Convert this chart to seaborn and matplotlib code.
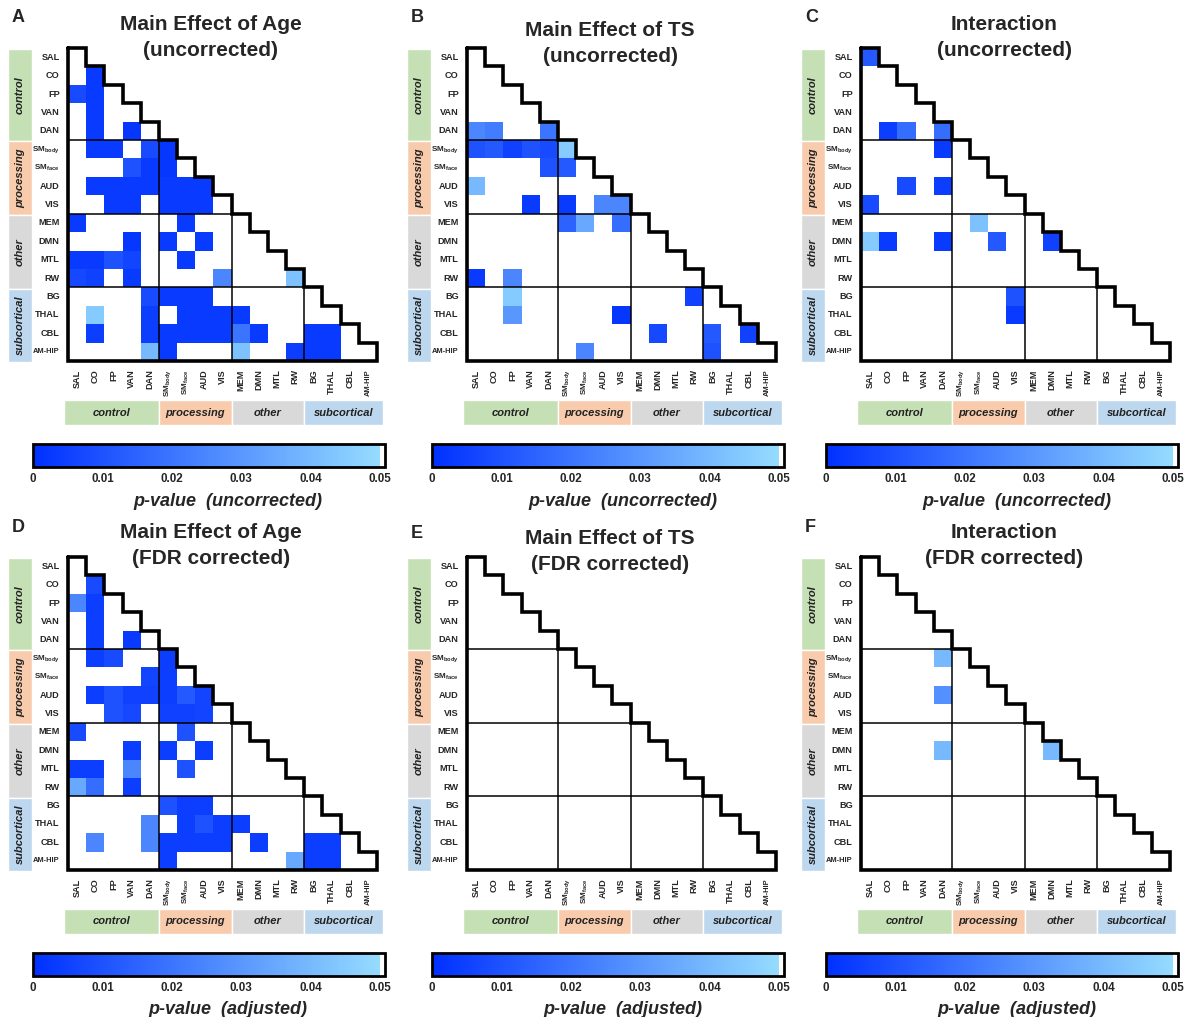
import numpy as np
import pandas as pd
import seaborn as sns
import matplotlib.pyplot as plt
from matplotlib.colors import LinearSegmentedColormap

sns.set_style("white")
plt.rcParams['font.family'] = ['Liberation Sans', 'DejaVu Sans']
plt.rcParams['mathtext.default'] = 'regular'

# networks and groups
networks = ["SAL", "CO", "FP", "VAN", "DAN", "SMbody", "SMface", "AUD", "VIS",
            "MEM", "DMN", "MTL", "RW", "BG", "THAL", "CBL", "AM-HIP"]
net_labels = ["SAL", "CO", "FP", "VAN", "DAN",
              r"SM$_{\mathregular{body}}$", r"SM$_{\mathregular{face}}$", "AUD", "VIS",
              "MEM", "DMN", "MTL", "RW", "BG", "THAL", "CBL", "AM-HIP"]
groups = ["control", "processing", "other", "subcortical"]
group_sizes = [5, 4, 4, 4]
group_colors = ["#c5e0b4", "#f8cbad", "#d9d9d9", "#bdd7ee"]
cbar_ticks = [0, 0.01, 0.02, 0.03, 0.04, 0.05]

# significant cells: (row network, column network, p)
age_unc = [
    ("CO", "CO", .003),
    ("FP", "SAL", .008), ("FP", "CO", .003),
    ("VAN", "CO", .003),
    ("DAN", "CO", .003), ("DAN", "VAN", .002),
    ("SMbody", "CO", .003), ("SMbody", "FP", .003), ("SMbody", "DAN", .008), ("SMbody", "SMbody", .002),
    ("SMface", "VAN", .01), ("SMface", "DAN", .003), ("SMface", "SMbody", .002),
    ("AUD", "CO", .003), ("AUD", "FP", .003), ("AUD", "VAN", .003), ("AUD", "DAN", .003),
    ("AUD", "SMbody", .003), ("AUD", "SMface", .003), ("AUD", "AUD", .003),
    ("VIS", "FP", .003), ("VIS", "VAN", .003), ("VIS", "SMbody", .003), ("VIS", "SMface", .003), ("VIS", "AUD", .003),
    ("MEM", "SAL", .003), ("MEM", "SMface", .003),
    ("DMN", "VAN", .002), ("DMN", "SMbody", .003), ("DMN", "AUD", .003),
    ("MTL", "SAL", .003), ("MTL", "CO", .003), ("MTL", "FP", .01), ("MTL", "VAN", .006), ("MTL", "SMface", .003),
    ("RW", "SAL", .007), ("RW", "CO", .005), ("RW", "VAN", .003), ("RW", "VIS", .025), ("RW", "RW", .042),
    ("BG", "DAN", .008), ("BG", "SMbody", .003), ("BG", "SMface", .003), ("BG", "AUD", .003),
    ("THAL", "CO", .045), ("THAL", "DAN", .004), ("THAL", "SMface", .003), ("THAL", "AUD", .003),
    ("THAL", "VIS", .003), ("THAL", "MEM", .003),
    ("CBL", "CO", .004), ("CBL", "DAN", .004), ("CBL", "SMbody", .003), ("CBL", "SMface", .003),
    ("CBL", "AUD", .003), ("CBL", "VIS", .003), ("CBL", "MEM", .02), ("CBL", "DMN", .003),
    ("CBL", "BG", .003), ("CBL", "THAL", .003),
    ("AM-HIP", "DAN", .04), ("AM-HIP", "SMbody", .003), ("AM-HIP", "MEM", .042), ("AM-HIP", "RW", .004),
    ("AM-HIP", "BG", .003), ("AM-HIP", "THAL", .003),
]

ts_unc = [
    ("DAN", "SAL", .025), ("DAN", "CO", .022), ("DAN", "DAN", .02),
    ("SMbody", "SAL", .01), ("SMbody", "CO", .012), ("SMbody", "FP", .005), ("SMbody", "VAN", .01),
    ("SMbody", "DAN", .008), ("SMbody", "SMbody", .045),
    ("SMface", "DAN", .01), ("SMface", "SMbody", .012),
    ("AUD", "SAL", .04),
    ("VIS", "VAN", .003), ("VIS", "SMbody", .003), ("VIS", "AUD", .025), ("VIS", "VIS", .025),
    ("MEM", "SMbody", .015), ("MEM", "SMface", .035), ("MEM", "VIS", .018),
    ("RW", "SAL", .003), ("RW", "FP", .025),
    ("BG", "FP", .045), ("BG", "RW", .005),
    ("THAL", "FP", .03), ("THAL", "VIS", .002),
    ("CBL", "DMN", .007), ("CBL", "BG", .012), ("CBL", "CBL", .005),
    ("AM-HIP", "SMface", .025), ("AM-HIP", "BG", .01),
]

int_unc = [
    ("SAL", "SAL", .012),
    ("DAN", "CO", .004), ("DAN", "FP", .018), ("DAN", "DAN", .018),
    ("SMbody", "DAN", .003),
    ("AUD", "FP", .008), ("AUD", "DAN", .004),
    ("VIS", "SAL", .008),
    ("MEM", "SMface", .042),
    ("DMN", "SAL", .045), ("DMN", "CO", .003), ("DMN", "DAN", .003), ("DMN", "AUD", .012), ("DMN", "DMN", .005),
    ("BG", "VIS", .01),
    ("THAL", "VIS", .003),
]

age_fdr = [
    ("CO", "CO", .008),
    ("FP", "SAL", .025), ("FP", "CO", .004),
    ("VAN", "CO", .004),
    ("DAN", "CO", .004), ("DAN", "VAN", .003),
    ("SMbody", "CO", .004), ("SMbody", "FP", .008), ("SMbody", "SMbody", .004),
    ("SMface", "DAN", .006), ("SMface", "SMbody", .004),
    ("AUD", "CO", .004), ("AUD", "FP", .01), ("AUD", "VAN", .005), ("AUD", "DAN", .005),
    ("AUD", "SMbody", .004), ("AUD", "SMface", .012), ("AUD", "AUD", .006),
    ("VIS", "FP", .01), ("VIS", "VAN", .007), ("VIS", "SMbody", .005), ("VIS", "SMface", .005), ("VIS", "AUD", .006),
    ("MEM", "SAL", .008), ("MEM", "SMface", .01),
    ("DMN", "VAN", .004), ("DMN", "SMbody", .004), ("DMN", "AUD", .004),
    ("MTL", "SAL", .004), ("MTL", "CO", .004), ("MTL", "VAN", .025), ("MTL", "SMface", .01),
    ("RW", "SAL", .035), ("RW", "CO", .018), ("RW", "VAN", .004),
    ("BG", "SMbody", .01), ("BG", "SMface", .004), ("BG", "AUD", .004),
    ("THAL", "DAN", .025), ("THAL", "SMface", .004), ("THAL", "AUD", .01), ("THAL", "VIS", .004), ("THAL", "MEM", .004),
    ("CBL", "CO", .025), ("CBL", "DAN", .025), ("CBL", "SMbody", .004), ("CBL", "SMface", .004),
    ("CBL", "AUD", .004), ("CBL", "VIS", .004), ("CBL", "DMN", .004), ("CBL", "BG", .004), ("CBL", "THAL", .004),
    ("AM-HIP", "SMbody", .004), ("AM-HIP", "RW", .035), ("AM-HIP", "BG", .004), ("AM-HIP", "THAL", .004),
]

ts_fdr = []

int_fdr = [
    ("SMbody", "DAN", .04), ("AUD", "DAN", .028), ("DMN", "DAN", .04), ("DMN", "DMN", .04),
]

panels = [
    ("A", "Main Effect of Age", "(uncorrected)", age_unc, "p-value  (uncorrected)", 0, 0, 0),
    ("B", "Main Effect of TS", "(uncorrected)", ts_unc, "p-value  (uncorrected)", 399, 0, 6),
    ("C", "Interaction", "(uncorrected)", int_unc, "p-value  (uncorrected)", 793, 0, 0),
    ("D", "Main Effect of Age", "(FDR corrected)", age_fdr, "p-value  (adjusted)", 0, 509, 0),
    ("E", "Main Effect of TS", "(FDR corrected)", ts_fdr, "p-value  (adjusted)", 399, 509, 6),
    ("F", "Interaction", "(FDR corrected)", int_fdr, "p-value  (adjusted)", 793, 509, 0),
]

W, H = 1196, 1017
VMAX = 0.0507
cmap = LinearSegmentedColormap.from_list(
    "pblue", [(0, "#0030ff"), (0.05 / VMAX, "#95dcff"), (0.05 / VMAX + 1e-4, "white"), (1, "white")])


def rect(x, y, w, h):
    return [x / W, 1 - (y + h) / H, w / W, h / H]


def ftext(x, y, s, **kw):
    fig.text(x / W, 1 - y / H, s, **kw)


fig = plt.figure(figsize=(11.96, 10.17), dpi=100)
n = len(networks)
bounds = np.cumsum([0] + group_sizes)

for letter, t1, t2, cells, clabel, dx, dy, dt in panels:
    mat = pd.DataFrame(np.nan, index=networks, columns=networks)
    for r, c, p in cells:
        mat.loc[r, c] = p

    ax = fig.add_axes(rect(68 + dx, 48 + dy, 309, 313))
    cax = fig.add_axes(rect(33 + dx, 444 + dy, 352, 23))
    sns.heatmap(mat, ax=ax, cmap=cmap, vmin=0, vmax=VMAX, cbar_ax=cax,
                cbar_kws={"orientation": "horizontal"},
                xticklabels=net_labels, yticklabels=net_labels)
    ax.set_xticklabels(net_labels, rotation=90, fontsize=6.6, fontweight="bold")
    ax.set_yticklabels(net_labels, rotation=0, fontsize=6.6, fontweight="bold")
    for labs in (ax.get_xticklabels(), ax.get_yticklabels()):
        labs[-1].set_fontsize(5.4)
        labs[5].set_fontsize(5.9)
        labs[6].set_fontsize(5.9)
    ax.tick_params(axis="both", length=2, width=0.6, pad=4)
    ax.set_xlabel("")
    ax.set_ylabel("")

    # staircase border of the lower triangle
    xs, ys = [0], [0]
    for i in range(n):
        xs += [i + 1, i + 1]
        ys += [i, i + 1]
    xs += [0, 0]
    ys += [n, 0]
    ax.plot(xs, ys, color="black", lw=2.6, clip_on=False, solid_joinstyle="miter")
    for b in bounds[1:-1]:
        ax.plot([0, b], [b, b], color="black", lw=1.1)
        ax.plot([b, b], [b, n], color="black", lw=1.1)

    # colorbar
    cbar = ax.collections[0].colorbar
    cbar.set_ticks(cbar_ticks)
    cbar.set_ticklabels(["0" if v == 0 else f"{v:g}" for v in cbar_ticks])
    cax.set_xticks(np.arange(0.005, 0.05, 0.01), minor=True)
    cax.tick_params(axis="x", which="both", direction="in", top=True, bottom=True,
                    length=3, width=0.7, labelsize=8.4, pad=4)
    for lab in cax.get_xticklabels():
        lab.set_fontweight("bold")
    cbar.outline.set_linewidth(2)
    cbar.outline.set_edgecolor("black")

    # left group bars
    axl = fig.add_axes(rect(8 + dx, 49 + dy, 24, 316))
    axl.set_ylim(n + 0.15, 0)
    axl.set_xlim(0, 1)
    for g, s, e, col in zip(groups, bounds[:-1], bounds[1:], group_colors):
        axl.barh(y=(s + e) / 2, width=1, height=e - s, left=0, color=col)
        axl.text(0.5, (s + e) / 2, g, rotation=90, ha="center", va="center",
                 fontsize=8, fontweight="bold", fontstyle="italic", color="#222222")
    axl.axis("off")

    # bottom group bars
    axb = fig.add_axes(rect(64 + dx, 400 + dy, 319, 25))
    axb.set_xlim(-0.22, n + 0.33)
    axb.set_ylim(0, 1)
    edges = [-0.22] + list(bounds[1:-1]) + [n + 0.33]
    for i, (g, col) in enumerate(zip(groups, group_colors)):
        axb.bar(x=edges[i], height=1, width=edges[i + 1] - edges[i], align="edge", color=col)
        axb.text((edges[i] + edges[i + 1]) / 2, 0.5, g, ha="center", va="center",
                 fontsize=8, fontweight="bold", fontstyle="italic", color="#222222")
    axb.axis("off")

    # texts
    ftext(210 + dx + 1, 24 + dy + dt, t1, ha="center", va="center", fontsize=15, fontweight="bold")
    ftext(210 + dx + 1, 50 + dy + dt, t2, ha="center", va="center", fontsize=15, fontweight="bold")
    ftext(10 + dx + 2, 18 + dy + (dt if letter == "E" else 0), letter, ha="left", va="center",
          fontsize=13, fontweight="bold")
    ftext(228 + dx - (4 if dx > 0 else 0), 501 + dy, clabel, ha="center", va="center", fontsize=13,
          fontweight="bold", fontstyle="italic")

fig.savefig("out.png", dpi=100)
